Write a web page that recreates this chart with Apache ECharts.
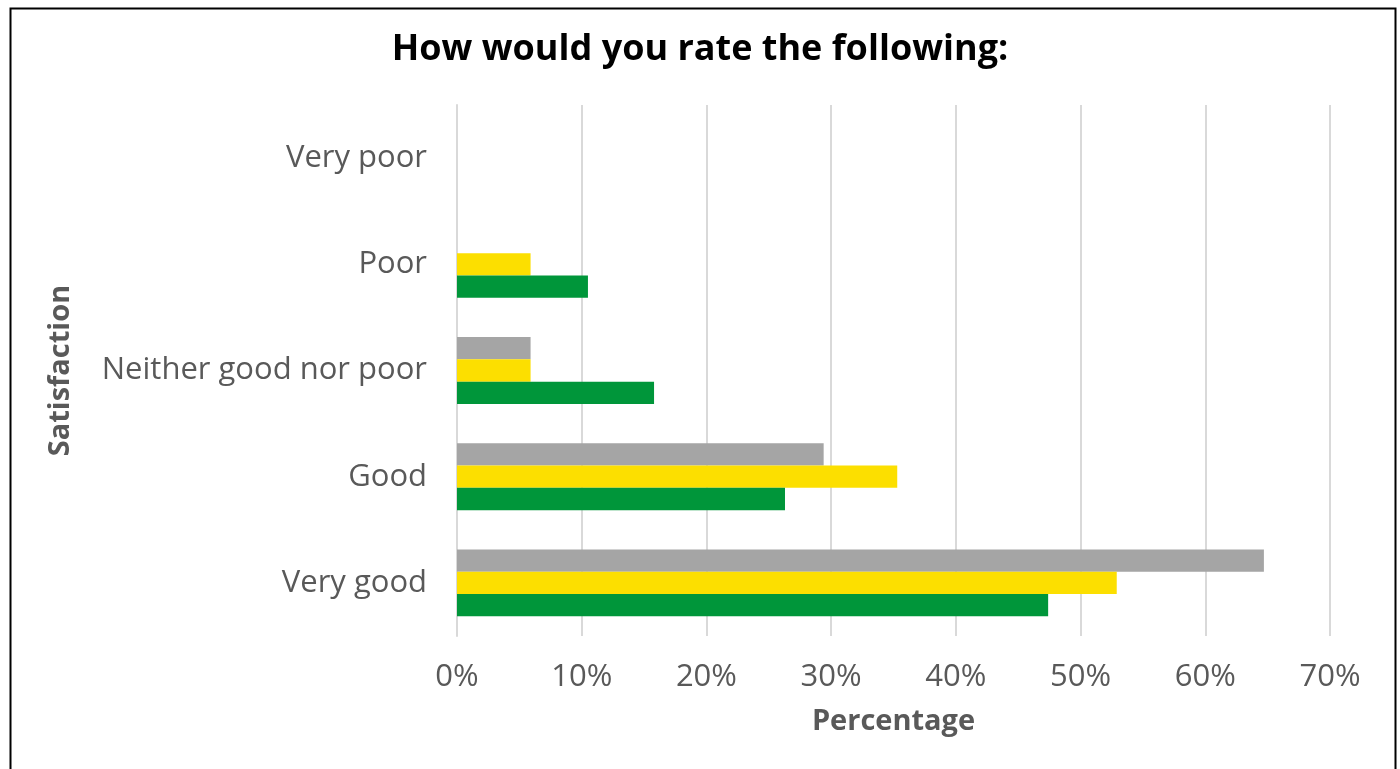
<!DOCTYPE html>
<html>
<head>
<meta charset="utf-8">
<script src="https://cdn.jsdelivr.net/npm/echarts@6/dist/echarts.min.js"></script>
<style>
html,body{margin:0;padding:0;background:#fff;}
#c{width:1400px;height:769px;}
</style>
</head>
<body>
<div id="c"></div>
<script>
const categories = ['Very good', 'Good', 'Neither good nor poor', 'Poor', 'Very poor'];
const seriesGray = [64.7, 29.4, 5.9, 0, 0];
const seriesYellow = [52.9, 35.3, 5.9, 5.9, 0];
const seriesGreen = [47.4, 26.3, 15.8, 10.5, 0];
const xTicks = [0, 10, 20, 30, 40, 50, 60, 70];

const font = '"Open Sans", "Noto Sans", sans-serif';
const chart = echarts.init(document.getElementById('c'), null, {renderer: 'canvas'});
const mk = (name, data, color) => ({
  name, type: 'bar', data, barGap: '0%', barCategoryGap: '37%',
  itemStyle: {color}, emphasis: {disabled: true}
});
chart.setOption({
  animation: false,
  textStyle: {fontFamily: font},
  graphic: [{
    type: 'rect', left: 8, top: 6, shape: {width: 1385, height: 800},
    style: {fill: 'none', stroke: '#000', lineWidth: 2}, silent: true
  }],
  title: {
    text: 'How would you rate the following:', left: 'center', top: 27,
    textStyle: {fontFamily: font, fontSize: 36, fontWeight: 'bold', color: '#000'}
  },
  grid: {left: 457, right: 70, top: 105, bottom: 133, containLabel: false},
  xAxis: {
    type: 'value', min: 0, max: 70, interval: 10,
    name: 'Percentage', nameLocation: 'middle', nameGap: 71,
    nameTextStyle: {fontFamily: font, fontSize: 29, fontWeight: 'bold', color: '#595959'},
    axisLabel: {formatter: v => xTicks.includes(v) ? v + '%' : '', fontSize: 31, color: '#595959', margin: 26, fontFamily: font},
    splitLine: {show: true, lineStyle: {color: '#D9D9D9', width: 2}},
    axisLine: {show: false}, axisTick: {show: false}
  },
  yAxis: {
    type: 'category', data: categories,
    name: 'Satisfaction', nameLocation: 'middle', nameGap: 382,
    nameTextStyle: {fontFamily: font, fontSize: 29, fontWeight: 'bold', color: '#595959'},
    axisLabel: {fontSize: 31, color: '#595959', margin: 30, fontFamily: font},
    axisLine: {show: true, lineStyle: {color: '#D9D9D9', width: 2}},
    axisTick: {show: false}
  },
  series: [
    mk('Series 3', seriesGray, '#A5A5A5'),
    mk('Series 2', seriesYellow, '#FCDF00'),
    mk('Series 1', seriesGreen, '#00963A')
  ]
});
</script>
</body>
</html>
